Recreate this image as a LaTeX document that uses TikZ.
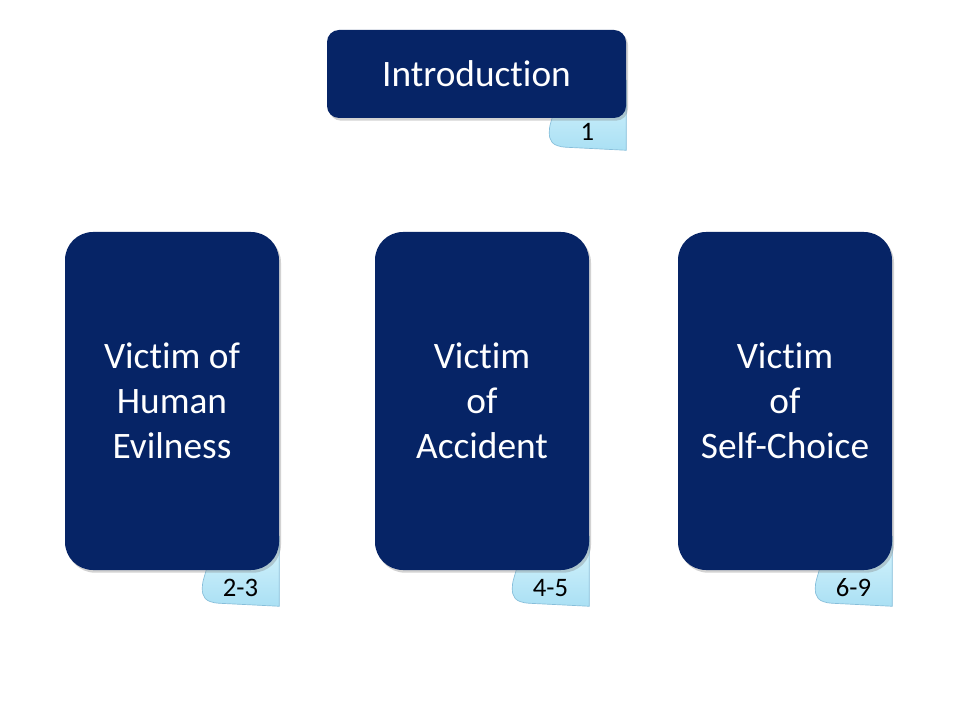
\documentclass[tikz,border=0pt]{standalone}
\usepackage{fontspec}
\setmainfont{Carlito}[Ligatures=NoCommon]
\usepackage{tikz}
\usetikzlibrary{positioning,shadows,backgrounds,calc}

\definecolor{boxblue}{HTML}{062466}
\definecolor{tabtop}{HTML}{D9F5FD}
\definecolor{tabbot}{HTML}{AAE0F4}
\definecolor{tabline}{HTML}{86BEDA}

\tikzset{
  bigbox/.style={fill=boxblue, rounded corners=21pt, text=white, align=center,
    font=\fontsize{28}{33.75}\selectfont,
    drop shadow={opacity=0.35, shadow xshift=1.5pt, shadow yshift=-2pt}},
  tablabel/.style={inner sep=0pt, minimum width=57.75pt, minimum height=27pt,
    font=\fontsize{20}{22}\selectfont},
  tabfill/.style={draw=tabline, line width=0.5pt, top color=tabtop, bottom color=tabbot}
}

% the paper tab peeking out under a box
\newcommand\pagetab[1]{%
  \path[tabfill, shift={(#1.south east)}] (0,-70) -- (0,0)
    .. controls (-30,-1) .. (-60,-3)
    .. controls (-75,-4) and (-77,-10) .. (-77,-18)
    .. controls (-77,-28) and (-72,-34) .. (-72,-45)
    -- (-72,-70) -- cycle;}

\begin{document}
\begin{tikzpicture}[x=0.75pt, y=-0.75pt]
  \useasboundingbox (0,0) rectangle (960,720);

  \node[bigbox, rounded corners=9pt, minimum width=224.25pt, minimum height=66pt] (Intro) at (476.5,74) {Introduction};
  \node[bigbox, minimum width=160.5pt, minimum height=253.5pt] (Human) at (172,401) {Victim of\\Human\\Evilness};
  \node[bigbox, minimum width=160.5pt, minimum height=253.5pt] (Accident) at (482,401) {Victim\\of\\Accident};
  \node[bigbox, minimum width=160.5pt, minimum height=253.5pt] (Choice) at (785,401) {Victim\\of\\Self-Choice};

  \node[tablabel, anchor=south east] (TabIntro) at ([yshift=-24pt]Intro.south east) {1};
  \node[tablabel, anchor=south east] (TabHuman) at ([yshift=-27pt]Human.south east) {2-3};
  \node[tablabel, anchor=south east] (TabAccident) at ([yshift=-27pt]Accident.south east) {4-5};
  \node[tablabel, anchor=south east] (TabChoice) at ([yshift=-27pt]Choice.south east) {6-9};

  \begin{scope}[on background layer]
    \fill[white] (0,0) rectangle (960,720);
    \pagetab{TabIntro}
    \pagetab{TabHuman}
    \pagetab{TabAccident}
    \pagetab{TabChoice}
  \end{scope}
\end{tikzpicture}
\end{document}
